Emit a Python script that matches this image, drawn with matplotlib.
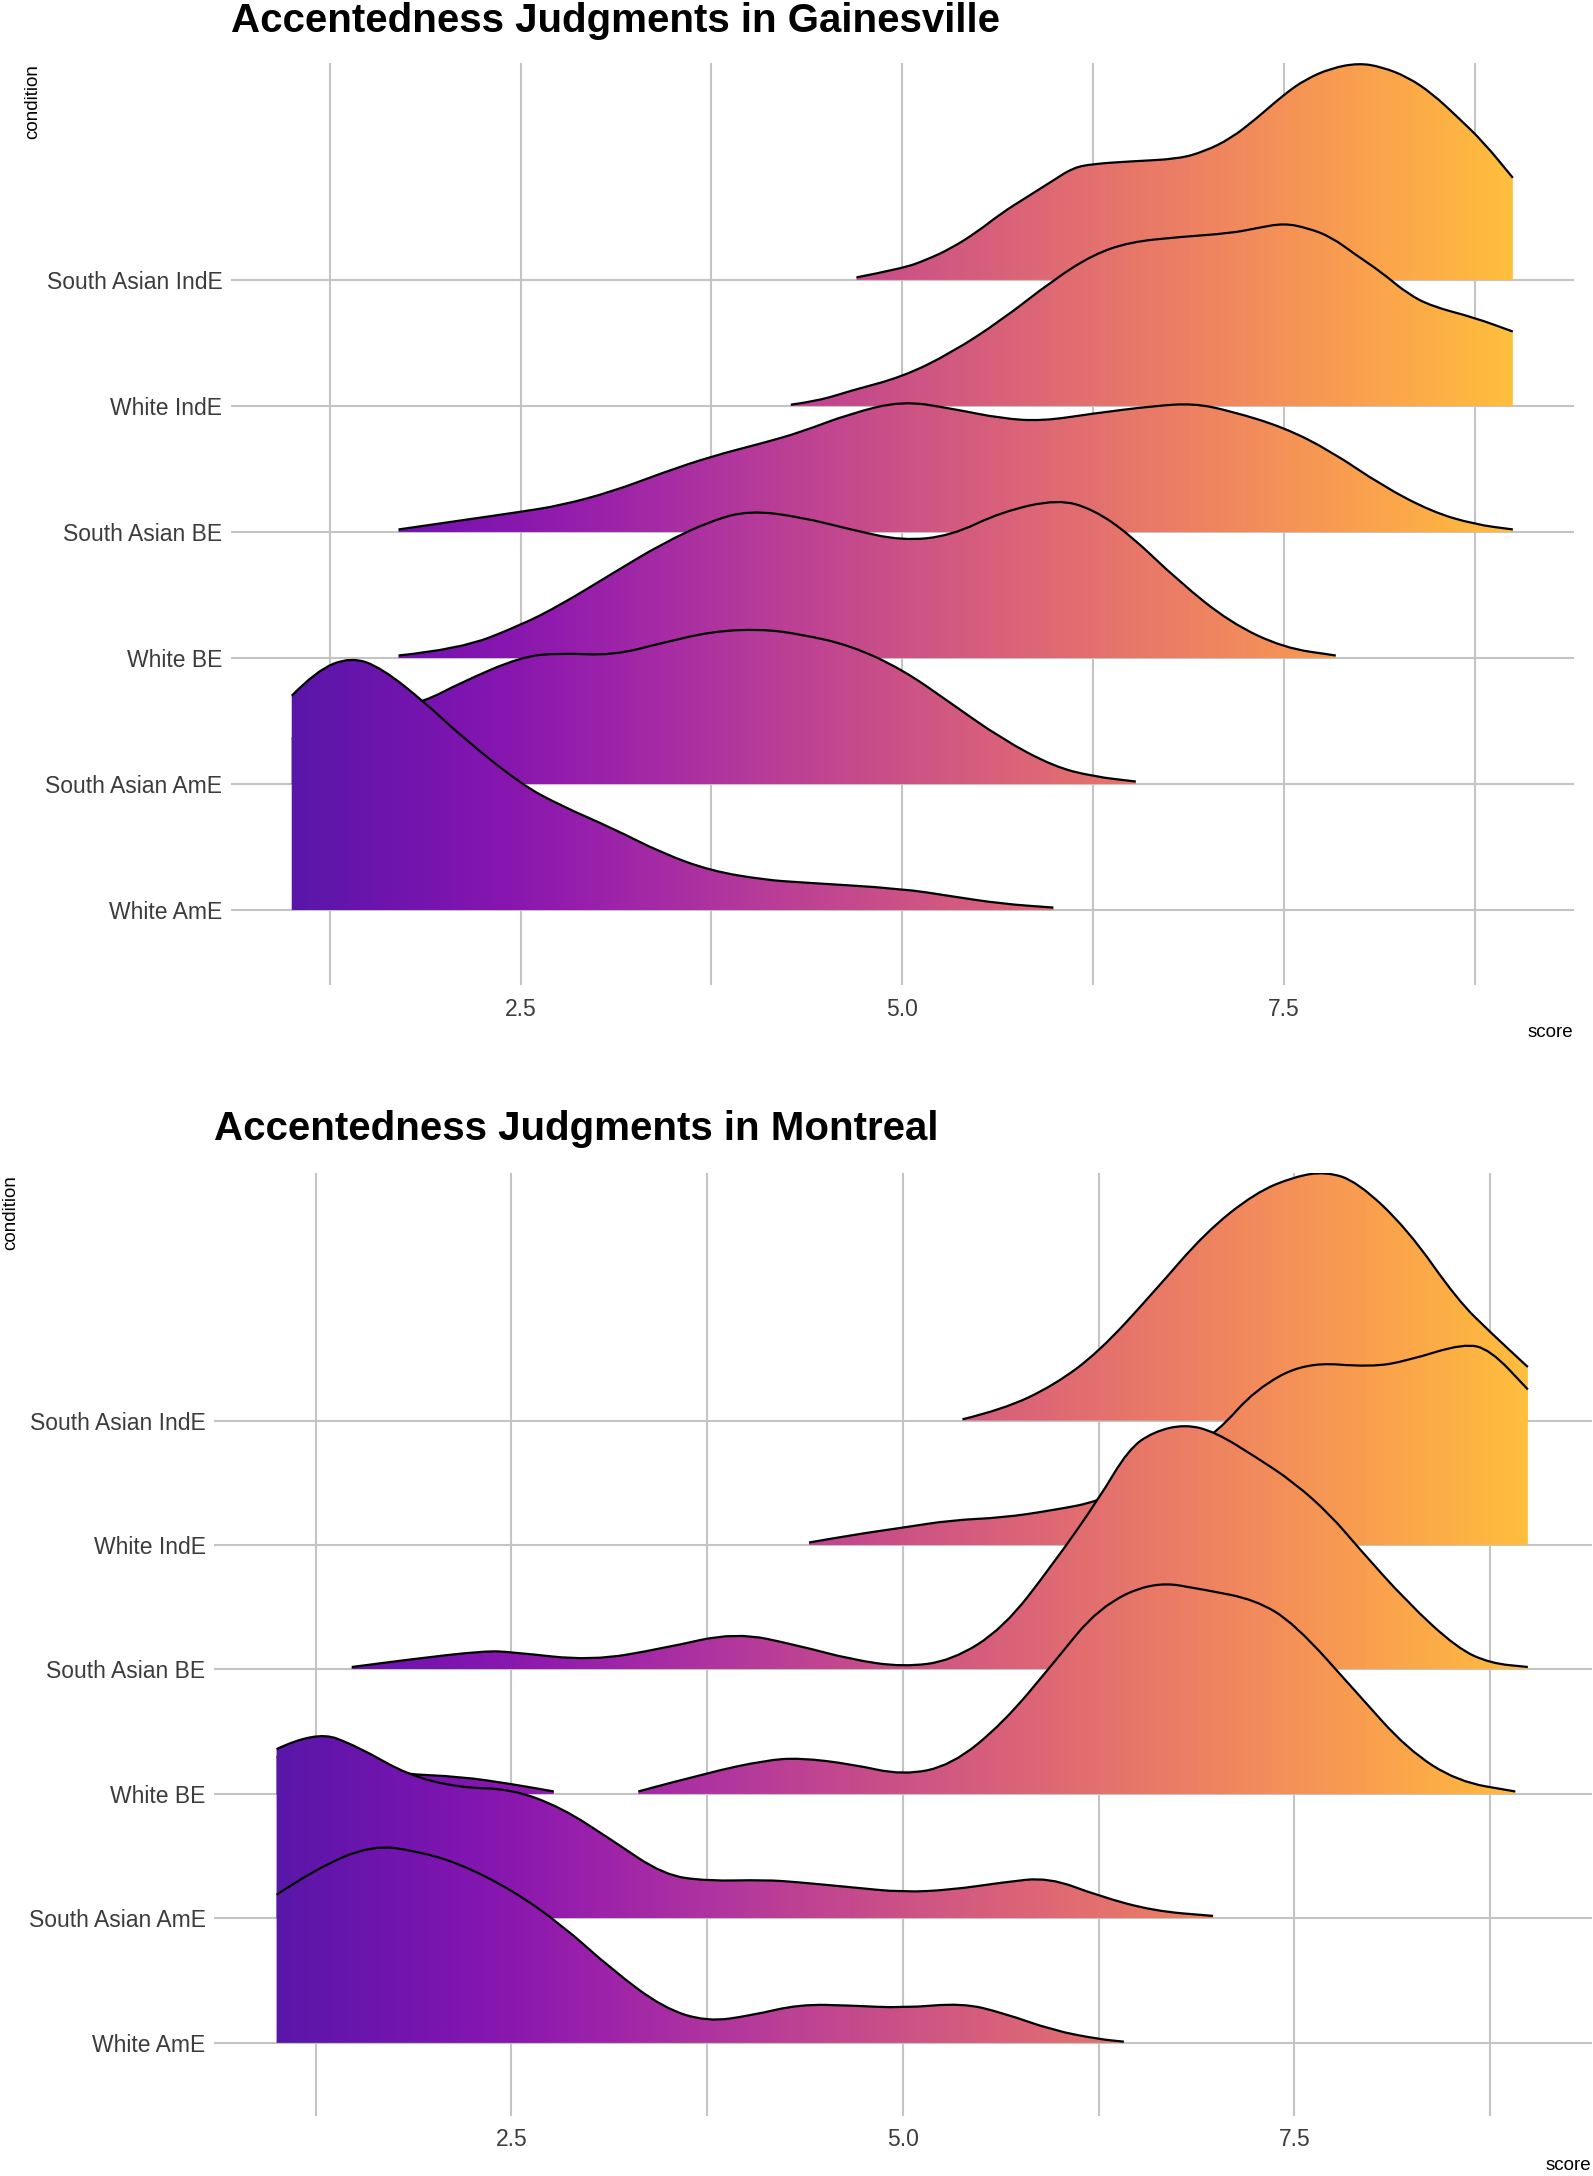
import numpy as np
import matplotlib.pyplot as plt
from matplotlib.patches import PathPatch
from matplotlib.path import Path

plt.rcParams['font.family'] = ['Liberation Sans', 'DejaVu Sans']

# categories, bottom to top
conditions = ['White AmE', 'South Asian AmE', 'White BE',
              'South Asian BE', 'White IndE', 'South Asian IndE']
x_ticks = [2.5, 5.0, 7.5]
x_tick_labels = ['2.5', '5.0', '7.5']

# Gainesville ridges: (score, ridge height in row units)
GV_SA_INDE = [(4.70, 0.02), (5.00, 0.09), (5.16, 0.16), (5.32, 0.25), (5.49, 0.38),
              (5.65, 0.53), (5.82, 0.66), (5.99, 0.79), (6.12, 0.89), (6.25, 0.92),
              (6.49, 0.94), (6.81, 0.96), (6.98, 1.02), (7.15, 1.12), (7.32, 1.28),
              (7.50, 1.47), (7.64, 1.59), (7.81, 1.68), (7.99, 1.72), (8.14, 1.69),
              (8.31, 1.61), (8.47, 1.48), (8.64, 1.29), (8.81, 1.09), (9.00, 0.81)]
GV_W_INDE = [(4.27, 0.01), (4.45, 0.04), (4.66, 0.12), (5.00, 0.23), (5.32, 0.42),
             (5.65, 0.68), (5.99, 1.00), (6.25, 1.20), (6.49, 1.30), (6.81, 1.34),
             (7.15, 1.37), (7.32, 1.41), (7.50, 1.45), (7.66, 1.41), (7.81, 1.34),
             (7.97, 1.20), (8.14, 1.06), (8.31, 0.89), (8.47, 0.79), (8.75, 0.70),
             (9.00, 0.59)]
GV_SA_BE = [(1.70, 0.02), (2.10, 0.09), (2.50, 0.16), (2.76, 0.21), (3.10, 0.32),
            (3.43, 0.47), (3.75, 0.60), (4.10, 0.71), (4.33, 0.79), (4.66, 0.94),
            (5.00, 1.04), (5.32, 0.98), (5.65, 0.90), (5.92, 0.88), (6.25, 0.94),
            (6.65, 1.00), (6.91, 1.02), (7.15, 0.96), (7.50, 0.83), (7.81, 0.64),
            (8.14, 0.37), (8.47, 0.16), (8.75, 0.06), (9.00, 0.02)]
GV_W_BE = [(1.70, 0.02), (2.10, 0.07), (2.50, 0.26), (2.76, 0.42), (3.10, 0.67),
           (3.43, 0.91), (3.75, 1.09), (4.00, 1.17), (4.33, 1.12), (4.66, 1.02),
           (5.00, 0.93), (5.32, 0.97), (5.65, 1.16), (6.02, 1.26), (6.25, 1.18),
           (6.49, 0.98), (6.81, 0.61), (7.15, 0.28), (7.50, 0.08), (7.84, 0.02)]
GV_SA_AME = [(1.00, 0.36), (1.25, 0.44), (1.50, 0.53), (1.88, 0.66), (2.10, 0.80),
             (2.50, 1.01), (2.76, 1.04), (3.10, 1.02), (3.43, 1.12), (3.75, 1.21),
             (4.07, 1.23), (4.33, 1.19), (4.66, 1.10), (5.00, 0.91), (5.32, 0.64),
             (5.65, 0.36), (5.99, 0.14), (6.25, 0.06), (6.53, 0.02)]
GV_W_AME = [(1.00, 1.70), (1.16, 1.90), (1.39, 2.01), (1.59, 1.92), (1.88, 1.64),
            (2.10, 1.39), (2.50, 1.00), (2.76, 0.83), (3.10, 0.65), (3.43, 0.45),
            (3.75, 0.31), (4.10, 0.24), (4.33, 0.22), (5.00, 0.17), (5.32, 0.11),
            (5.65, 0.05), (5.99, 0.02)]

# Montreal ridges
MT_SA_INDE = [(5.38, 0.01), (5.64, 0.09), (5.96, 0.28), (6.25, 0.55), (6.60, 1.03),
              (6.93, 1.51), (7.25, 1.83), (7.50, 1.96), (7.70, 2.00), (7.90, 1.92),
              (8.22, 1.54), (8.54, 0.97), (8.75, 0.71), (8.99, 0.43)]
MT_W_INDE = [(4.40, 0.02), (4.67, 0.08), (5.00, 0.14), (5.31, 0.20), (5.64, 0.22),
             (5.96, 0.28), (6.25, 0.35), (6.50, 0.52), (6.75, 0.70), (7.01, 0.91),
             (7.25, 1.25), (7.57, 1.47), (7.99, 1.43), (8.22, 1.48), (8.58, 1.62),
             (8.75, 1.57), (8.99, 1.25)]
MT_SA_BE = [(1.48, 0.02), (1.84, 0.08), (2.33, 0.15), (2.50, 0.14), (3.01, 0.07),
            (3.47, 0.17), (3.93, 0.30), (4.34, 0.19), (4.67, 0.08), (5.00, 0.02),
            (5.31, 0.07), (5.64, 0.33), (5.96, 0.85), (6.25, 1.37), (6.44, 1.77),
            (6.60, 1.91), (6.80, 1.97), (6.99, 1.91), (7.25, 1.71), (7.50, 1.50),
            (7.73, 1.24), (7.90, 0.99), (8.22, 0.54), (8.54, 0.17), (8.75, 0.05),
            (8.99, 0.02)]
MT_W_BE_LOW = [(1.00, 0.30), (1.40, 0.24), (1.80, 0.16), (2.17, 0.14), (2.50, 0.08),
               (2.77, 0.02)]
MT_W_BE_HIGH = [(3.31, 0.02), (3.75, 0.17), (4.12, 0.27), (4.34, 0.29), (4.67, 0.24),
                (5.00, 0.15), (5.31, 0.23), (5.64, 0.57), (5.96, 1.05), (6.25, 1.50),
                (6.60, 1.71), (6.93, 1.64), (7.25, 1.56), (7.50, 1.37), (7.90, 0.81),
                (8.22, 0.36), (8.54, 0.10), (8.91, 0.02)]
MT_SA_AME = [(1.00, 1.36), (1.25, 1.51), (1.52, 1.38), (1.84, 1.15), (2.17, 1.05),
             (2.50, 1.04), (2.82, 0.89), (3.14, 0.63), (3.47, 0.35), (3.75, 0.30),
             (4.12, 0.31), (4.34, 0.29), (4.67, 0.25), (5.00, 0.21), (5.31, 0.23),
             (5.64, 0.29), (5.93, 0.33), (6.25, 0.18), (6.60, 0.06), (6.98, 0.02)]
MT_W_AME = [(1.00, 1.19), (1.25, 1.40), (1.61, 1.59), (1.90, 1.54), (2.17, 1.44),
            (2.50, 1.23), (2.82, 0.95), (3.14, 0.59), (3.47, 0.28), (3.75, 0.17),
            (4.03, 0.22), (4.34, 0.31), (4.67, 0.30), (5.00, 0.28), (5.38, 0.32),
            (5.64, 0.24), (5.96, 0.10), (6.25, 0.03), (6.41, 0.01)]

gv_ridges = [GV_W_AME, GV_SA_AME, GV_W_BE, GV_SA_BE, GV_W_INDE, GV_SA_INDE]
mt_ridges = [MT_W_AME, MT_SA_AME, [MT_W_BE_LOW, MT_W_BE_HIGH], MT_SA_BE, MT_W_INDE, MT_SA_INDE]

XMIN, XMAX = 0.6, 9.4
grid_col = '#c4c4c4'

# plasma gradient along the score axis, slightly washed out
grad_x = np.linspace(XMIN, XMAX, 600)
grad_rgb = plt.cm.plasma(np.clip(0.12 + (grad_x - 1) / 8 * 0.73, 0, 1))[:, :3]
grad_rgb = grad_rgb * 0.92 + 0.08
grad_img = grad_rgb[None, :, :]


def ridge_verts(pts, base):
    # quadratic bezier through the read points so the outline is smooth
    p = [(x, base + h) for x, h in pts]
    verts = [p[0]]
    codes = [Path.MOVETO]
    for i in range(1, len(p) - 1):
        mid = ((p[i][0] + p[i + 1][0]) / 2, (p[i][1] + p[i + 1][1]) / 2)
        verts += [p[i], mid]
        codes += [Path.CURVE3, Path.CURVE3]
    verts.append(p[-1])
    codes.append(Path.LINETO)
    return verts, codes


def draw_ridge(ax, pts, base, z):
    verts, codes = ridge_verts(pts, base)
    fv = [(pts[0][0], base)] + verts + [(pts[-1][0], base), (pts[0][0], base)]
    fc = [Path.MOVETO, Path.LINETO] + codes[1:] + [Path.LINETO, Path.CLOSEPOLY]
    fill = PathPatch(Path(fv, fc), facecolor='none', edgecolor='none', zorder=z)
    ax.add_patch(fill)
    im = ax.imshow(grad_img, extent=(XMIN, XMAX, base, base + 2.2), aspect='auto',
                   origin='lower', zorder=z, interpolation='bilinear')
    im.set_clip_path(fill)
    line = PathPatch(Path(verts, codes), facecolor='none', edgecolor='black',
                     lw=1.6, zorder=z + 0.5, capstyle='butt')
    ax.add_patch(line)


def draw_panel(ax, ridges, title, ylim, title_x, title_y):
    for g in [1.25, 2.5, 3.75, 5.0, 6.25, 7.5, 8.75]:
        ax.axvline(g, color=grid_col, lw=1.5, zorder=0)
    for k in range(1, 7):
        ax.axhline(k, color=grid_col, lw=1.5, zorder=0)
    # top rows first so lower rows overlap them
    for k in range(6, 0, -1):
        r = ridges[k - 1]
        z = 2 + (6 - k) * 2
        segs = r if isinstance(r[0], list) else [r]
        for s in segs:
            draw_ridge(ax, s, k, z)
    ax.set_xlim(XMIN, XMAX)
    ax.set_ylim(*ylim)
    ax.set_xticks(x_ticks)
    ax.set_xticklabels(x_tick_labels)
    ax.set_yticks(range(1, 7))
    ax.set_yticklabels(conditions)
    ax.tick_params(length=0, labelsize=16.5, labelcolor='#3c3c3c')
    ax.tick_params(axis='x', pad=9)
    ax.tick_params(axis='y', pad=6)
    for sp in ax.spines.values():
        sp.set_visible(False)
    fig.text(title_x, title_y, title, fontsize=29, fontweight='bold',
             ha='left', va='baseline')


fig = plt.figure(figsize=(15.93, 21.76), dpi=100)

ax1 = fig.add_axes([0.1448, 0.5473, 0.988 - 0.1448, 0.971 - 0.5473])
draw_panel(ax1, gv_ridges, 'Accentedness Judgments in Gainesville', (0.405, 7.72), 0.1448, 0.9853)
fig.text(0.0207, 0.9706, 'condition', rotation=90, fontsize=13.5, ha='center', va='top')
fig.text(0.9875, 0.5253, 'score', fontsize=13.5, ha='right', va='center')

ax2 = fig.add_axes([0.1343, 0.0276, 0.9994 - 0.1343, 0.461 - 0.0276])
draw_panel(ax2, mt_ridges, 'Accentedness Judgments in Montreal', (0.413, 7.99), 0.1343, 0.4761)
fig.text(0.0069, 0.46, 'condition', rotation=90, fontsize=13.5, ha='center', va='top')
fig.text(0.999, 0.0046, 'score', fontsize=13.5, ha='right', va='center')

fig.savefig('out.png', dpi=100)
